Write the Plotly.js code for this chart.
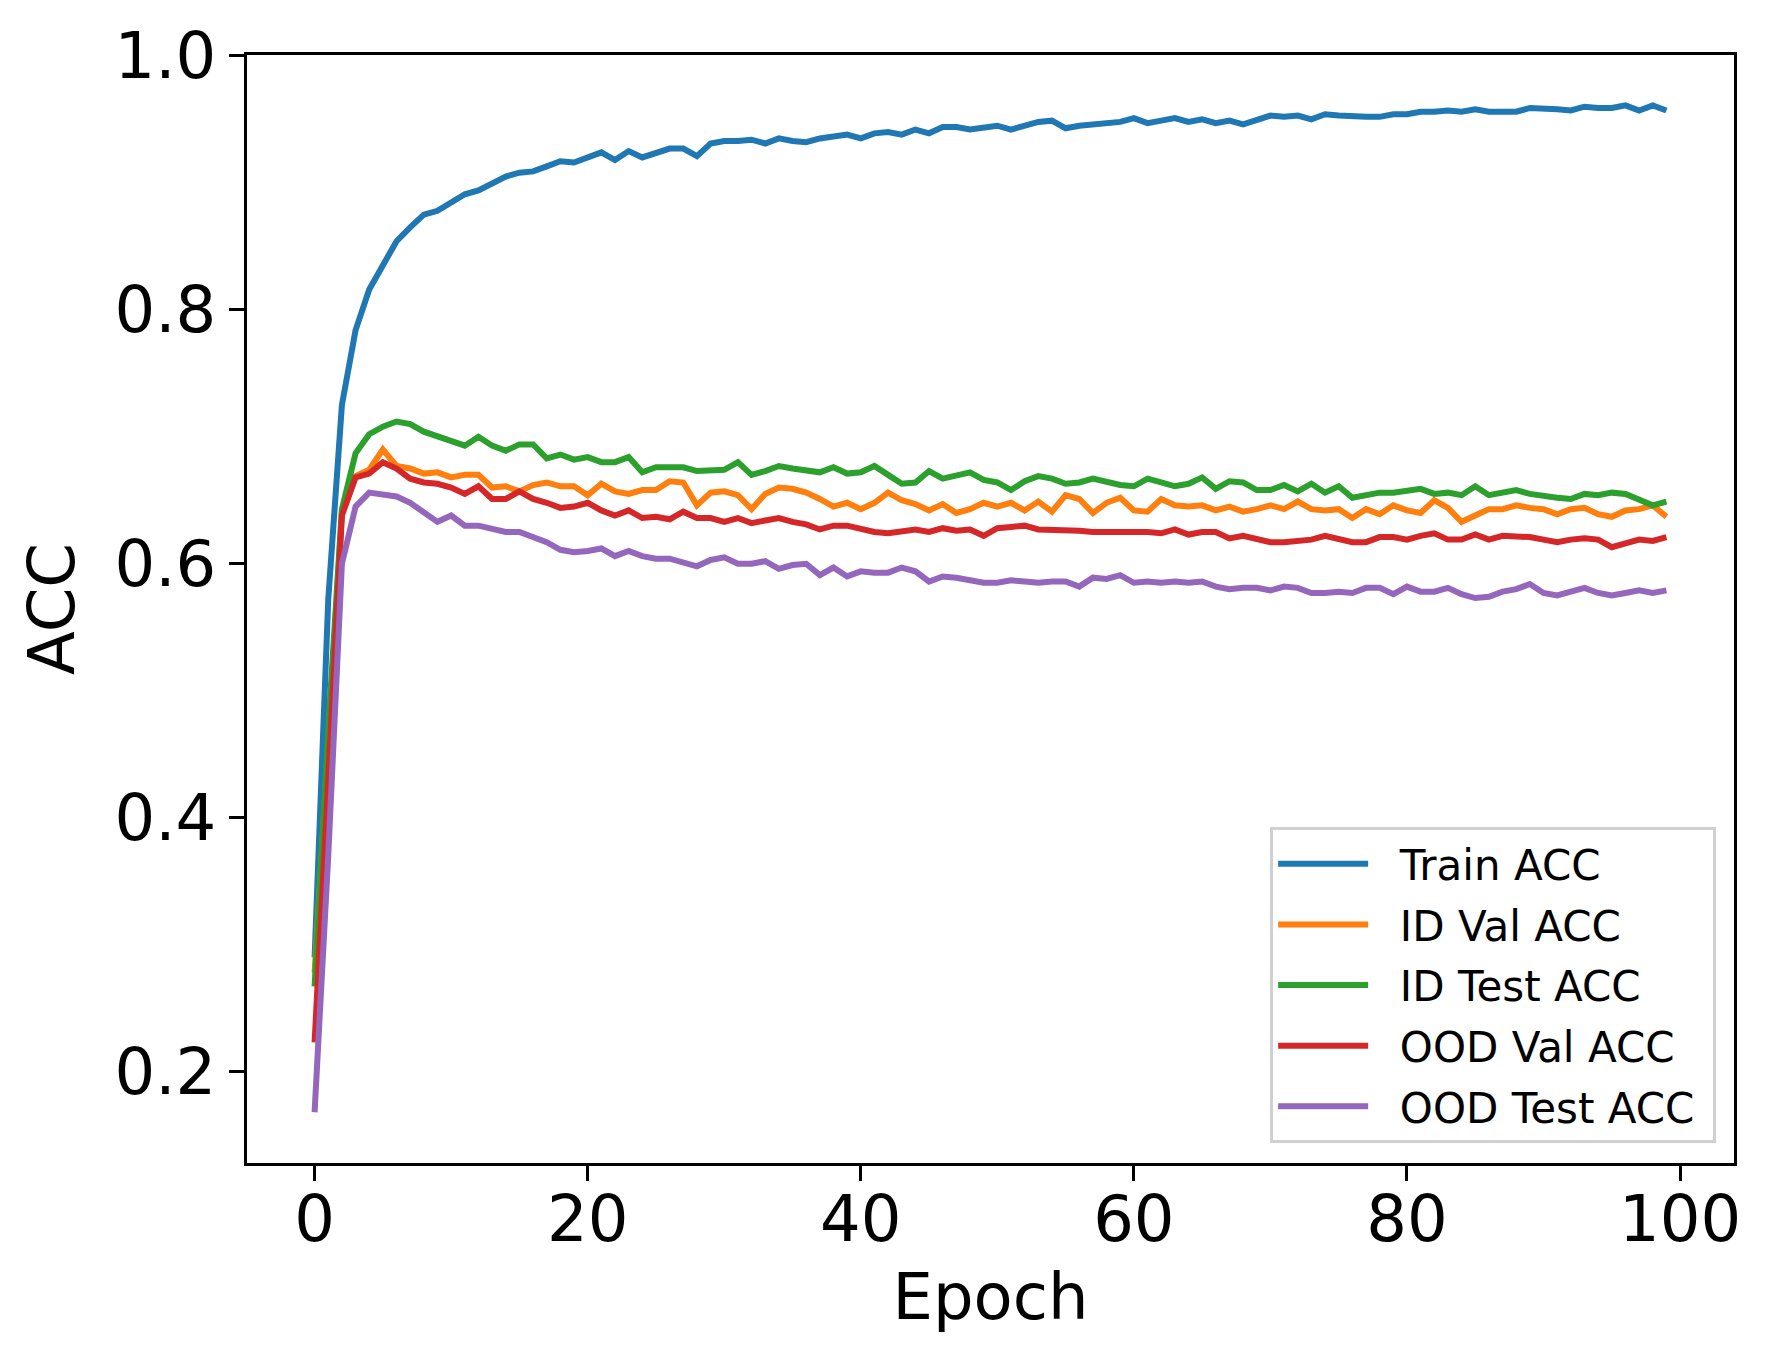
<!DOCTYPE html>
<html>
<head>
<meta charset="utf-8">
<script src="https://cdn.plot.ly/plotly-3.0.1.min.js"></script>
<style>
  body { margin: 0; background: #ffffff; }
  #plot { width: 1773px; height: 1367px; }
</style>
</head>
<body>
<div id="plot"></div>
<script>
// accuracy per epoch
var epochs = [];
for (var i = 0; i < 100; i++) { epochs.push(i); }

var trainAcc = [
  0.290, 0.572, 0.725, 0.784, 0.816, 0.835, 0.854, 0.865, 0.875, 0.878,
  0.885, 0.891, 0.894, 0.899, 0.905, 0.908, 0.909, 0.913, 0.917, 0.916,
  0.920, 0.924, 0.918, 0.925, 0.920, 0.924, 0.927, 0.927, 0.921, 0.931,
  0.933, 0.933, 0.934, 0.931, 0.935, 0.933, 0.932, 0.935, 0.936, 0.938,
  0.935, 0.939, 0.940, 0.938, 0.942, 0.939, 0.944, 0.944, 0.942, 0.944,
  0.945, 0.942, 0.945, 0.948, 0.949, 0.943, 0.945, 0.946, 0.948, 0.948,
  0.951, 0.947, 0.949, 0.951, 0.948, 0.950, 0.947, 0.949, 0.946, 0.949,
  0.953, 0.952, 0.953, 0.950, 0.954, 0.953, 0.952, 0.952, 0.952, 0.954,
  0.954, 0.956, 0.956, 0.957, 0.956, 0.958, 0.956, 0.956, 0.956, 0.959,
  0.959, 0.958, 0.957, 0.960, 0.959, 0.959, 0.961, 0.957, 0.961, 0.957
];

var idValAcc = [
  0.278, 0.460, 0.640, 0.669, 0.674, 0.690, 0.677, 0.675, 0.671, 0.672,
  0.668, 0.670, 0.670, 0.660, 0.661, 0.657, 0.662, 0.664, 0.661, 0.661,
  0.654, 0.663, 0.657, 0.655, 0.658, 0.658, 0.665, 0.664, 0.646, 0.656,
  0.657, 0.654, 0.643, 0.655, 0.660, 0.659, 0.656, 0.651, 0.645, 0.648,
  0.643, 0.648, 0.656, 0.650, 0.647, 0.642, 0.647, 0.640, 0.643, 0.648,
  0.645, 0.648, 0.642, 0.649, 0.641, 0.654, 0.651, 0.640, 0.648, 0.652,
  0.642, 0.641, 0.651, 0.646, 0.645, 0.646, 0.642, 0.645, 0.641, 0.643,
  0.646, 0.643, 0.649, 0.643, 0.642, 0.643, 0.636, 0.643, 0.639, 0.646,
  0.642, 0.640, 0.650, 0.644, 0.633, 0.638, 0.643, 0.643, 0.646, 0.644,
  0.643, 0.639, 0.643, 0.644, 0.639, 0.637, 0.642, 0.643, 0.646, 0.637
];

var idTestAcc = [
  0.267, 0.470, 0.643, 0.687, 0.702, 0.708, 0.712, 0.710, 0.704, 0.700,
  0.696, 0.693, 0.700, 0.693, 0.689, 0.694, 0.694, 0.683, 0.686, 0.682,
  0.684, 0.680, 0.680, 0.684, 0.672, 0.676, 0.676, 0.676, 0.673, 0.673,
  0.674, 0.680, 0.670, 0.673, 0.677, 0.675, 0.674, 0.672, 0.676, 0.671,
  0.672, 0.677, 0.670, 0.663, 0.664, 0.673, 0.667, 0.670, 0.672, 0.666,
  0.664, 0.658, 0.665, 0.669, 0.667, 0.663, 0.664, 0.667, 0.664, 0.662,
  0.661, 0.667, 0.664, 0.661, 0.663, 0.668, 0.659, 0.665, 0.664, 0.658,
  0.658, 0.662, 0.657, 0.663, 0.656, 0.661, 0.652, 0.654, 0.656, 0.656,
  0.657, 0.659, 0.655, 0.656, 0.654, 0.661, 0.654, 0.656, 0.658, 0.655,
  0.653, 0.652, 0.651, 0.655, 0.654, 0.656, 0.655, 0.650, 0.646, 0.649
];

var oodValAcc = [
  0.223, 0.430, 0.638, 0.668, 0.671, 0.680, 0.675, 0.667, 0.664, 0.663,
  0.660, 0.655, 0.661, 0.651, 0.651, 0.657, 0.651, 0.648, 0.644, 0.645,
  0.648, 0.642, 0.638, 0.642, 0.636, 0.637, 0.635, 0.641, 0.636, 0.636,
  0.633, 0.636, 0.632, 0.634, 0.636, 0.633, 0.631, 0.627, 0.630, 0.630,
  0.627, 0.625, 0.624, 0.625, 0.627, 0.625, 0.628, 0.626, 0.627, 0.622,
  0.628, 0.629, 0.630, 0.627, 0.627, 0.626, 0.626, 0.625, 0.625, 0.626,
  0.626, 0.625, 0.624, 0.627, 0.623, 0.625, 0.625, 0.620, 0.622, 0.620,
  0.617, 0.617, 0.618, 0.619, 0.622, 0.620, 0.617, 0.617, 0.621, 0.621,
  0.619, 0.622, 0.624, 0.619, 0.619, 0.623, 0.619, 0.622, 0.622, 0.621,
  0.619, 0.617, 0.619, 0.620, 0.619, 0.613, 0.616, 0.619, 0.618, 0.621
];

var oodTestAcc = [
  0.168, 0.370, 0.600, 0.645, 0.656, 0.655, 0.653, 0.648, 0.640, 0.633,
  0.638, 0.630, 0.630, 0.627, 0.625, 0.625, 0.621, 0.617, 0.611, 0.609,
  0.610, 0.612, 0.606, 0.610, 0.606, 0.604, 0.604, 0.601, 0.598, 0.603,
  0.605, 0.600, 0.600, 0.602, 0.596, 0.599, 0.600, 0.591, 0.597, 0.590,
  0.594, 0.593, 0.593, 0.597, 0.594, 0.586, 0.590, 0.589, 0.587, 0.585,
  0.585, 0.587, 0.586, 0.585, 0.586, 0.586, 0.582, 0.589, 0.588, 0.591,
  0.585, 0.586, 0.585, 0.586, 0.585, 0.586, 0.582, 0.580, 0.581, 0.581,
  0.579, 0.582, 0.581, 0.577, 0.577, 0.578, 0.577, 0.581, 0.581, 0.576,
  0.582, 0.578, 0.578, 0.581, 0.576, 0.573, 0.574, 0.578, 0.580, 0.584,
  0.577, 0.575, 0.578, 0.581, 0.577, 0.575, 0.577, 0.579, 0.577, 0.579
];

var seriesNames = ['Train ACC', 'ID Val ACC', 'ID Test ACC', 'OOD Val ACC', 'OOD Test ACC'];
var seriesValues = [trainAcc, idValAcc, idTestAcc, oodValAcc, oodTestAcc];
var seriesColors = ['#1f77b4', '#ff7f0e', '#2ca02c', '#d62728', '#9467bd'];

var xTicks = [0, 20, 40, 60, 80, 100];
var yTicks = [0.2, 0.4, 0.6, 0.8, 1.0];

// nbsp padding gives the legend text some room from the handle / frame
var pad = '\u00a0\u00a0';

var data = [];
for (var s = 0; s < seriesNames.length; s++) {
  data.push({
    x: epochs,
    y: seriesValues[s],
    name: pad + seriesNames[s] + '\u00a0',
    legendgroup: 'g' + s,
    type: 'scatter',
    mode: 'lines',
    line: { color: seriesColors[s], width: 6 }
  });
}

var fontFamily = 'DejaVu Sans, sans-serif';

var layout = {
  width: 1773,
  height: 1367,
  autosize: false,
  paper_bgcolor: '#ffffff',
  plot_bgcolor: '#ffffff',
  margin: { l: 247, r: 39, t: 55, b: 204, pad: 0 },
  font: { family: fontFamily, color: '#000000' },
  showlegend: true,
  legend: {
    x: 0.988,
    y: 0.018,
    xanchor: 'right',
    yanchor: 'bottom',
    bgcolor: 'rgba(255,255,255,0.8)',
    bordercolor: '#d0d0d0',
    borderwidth: 3,
    font: { family: fontFamily, size: 42, color: '#000000' },
    tracegroupgap: 3,
    itemwidth: 90
  },
  xaxis: {
    range: [-4.95, 103.95],
    tickvals: xTicks,
    ticktext: xTicks.map(String),
    ticks: 'outside',
    ticklen: 15,
    tickwidth: 3,
    tickcolor: '#000000',
    ticklabelstandoff: -17,
    showline: true,
    linecolor: '#000000',
    linewidth: 3,
    mirror: true,
    showgrid: false,
    zeroline: false,
    tickfont: { family: fontFamily, size: 64, color: '#000000' },
    title: { text: 'Epoch', font: { family: fontFamily, size: 64, color: '#000000' }, standoff: 20 }
  },
  yaxis: {
    range: [0.128, 1.0007],
    tickvals: yTicks,
    ticktext: yTicks.map(function(v) { return v.toFixed(1); }),
    ticks: 'outside',
    ticklen: 15,
    tickwidth: 3,
    tickcolor: '#000000',
    showline: true,
    linecolor: '#000000',
    linewidth: 3,
    mirror: true,
    showgrid: false,
    zeroline: false,
    tickfont: { family: fontFamily, size: 64, color: '#000000' },
    title: { text: 'ACC', font: { family: fontFamily, size: 64, color: '#000000' }, standoff: 20 }
  }
};

var p = document.getElementById('plot');
Plotly.newPlot(p, data, layout, { displayModeBar: false, staticPlot: true });
</script>
</body>
</html>
